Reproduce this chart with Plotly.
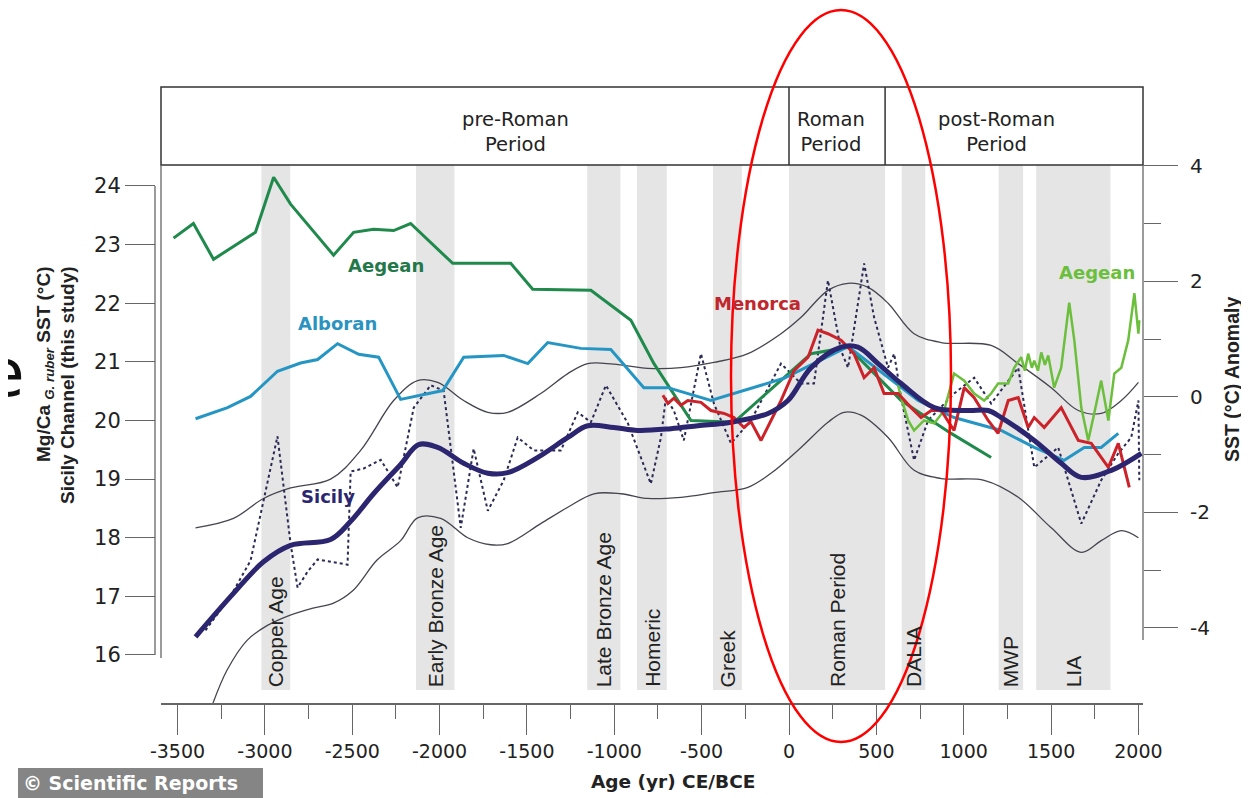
import plotly.graph_objects as go

W, H = 1249, 798
OFF = 8  # page offset of the plot div (body margin)

# ---------------- data ----------------
aegean_yr = [-3523, -3409, -3294, -3054, -2950, -2853, -2607, -2492, -2378, -2263, -2166, -2055,
             -1925, -1593, -1467, -1134, -905, -773, -659, -561, -315, -46, 126, 338, 642, 928, 1157]
aegean_val = [23.11, 23.36, 22.75, 23.21, 24.15, 23.69, 22.82, 23.21, 23.26, 23.24, 23.36, 23.05,
              22.68, 22.68, 22.24, 22.22, 21.71, 20.97, 20.46, 20.00, 19.97, 20.69, 21.14, 21.25,
              20.34, 19.78, 19.37]

alboran_yr = [-3397, -3214, -3082, -2928, -2796, -2698, -2584, -2463, -2349, -2223, -1982, -1862,
              -1633, -1495, -1381, -1192, -1020, -831, -693, -447, -29, 338, 739, 945, 1215, 1404,
              1575, 1690, 1787, 1885]
alboran_val = [20.03, 20.22, 20.41, 20.84, 20.98, 21.04, 21.31, 21.13, 21.08, 20.36, 20.51, 21.08,
               21.11, 20.97, 21.33, 21.23, 21.21, 20.56, 20.56, 20.34, 20.72, 21.26, 20.34, 20.05,
               19.83, 19.54, 19.32, 19.54, 19.54, 19.78]

sicily_yr = [-3397, -3180, -3008, -2853, -2624, -2509, -2378, -2223, -2120, -2011, -1862, -1724,
             -1610, -1438, -1266, -1152, -1003, -865, -676, -521, -332, -120, -6, 126, 298, 395,
             510, 642, 831, 1025, 1140, 1215, 1404, 1558, 1673, 1845, 2017]
sicily_val = [16.31, 17.05, 17.59, 17.87, 17.97, 18.28, 18.75, 19.25, 19.59, 19.54, 19.27, 19.10,
              19.11, 19.37, 19.71, 19.91, 19.88, 19.83, 19.86, 19.91, 19.97, 20.12, 20.34, 20.90,
              21.25, 21.25, 20.97, 20.63, 20.22, 20.17, 20.17, 20.05, 19.66, 19.27, 19.03, 19.15,
              19.44]

upper_yr = [-3397, -3180, -3008, -2853, -2624, -2452, -2263, -2126, -2011, -1862, -1724, -1610,
            -1421, -1266, -1152, -1003, -808, -619, -430, -235, -46, 69, 223, 338, 453, 567, 716,
            871, 1157, 1312, 1501, 1656, 1787, 1902, 2000]
upper_val = [18.17, 18.33, 18.67, 18.85, 19.00, 19.49, 20.34, 20.68, 20.65, 20.34, 20.14, 20.14,
             20.46, 20.80, 20.97, 20.96, 20.89, 20.90, 20.99, 21.14, 21.48, 21.76, 22.22, 22.34,
             22.27, 22.00, 21.48, 21.33, 21.28, 20.97, 20.56, 20.17, 20.12, 20.34, 20.65]

lower_yr = [-3297, -3217, -3102, -2988, -2873, -2725, -2610, -2496, -2358, -2223, -2126, -1994,
            -1839, -1707, -1610, -1421, -1266, -1117, -962, -808, -619, -430, -235, -103, 69, 223,
            315, 412, 567, 716, 871, 1117, 1312, 1501, 1673, 1787, 1902, 2000]
lower_val = [15.18, 15.74, 16.25, 16.50, 16.66, 16.80, 16.88, 17.10, 17.62, 17.95, 18.34, 18.33,
             18.00, 17.88, 17.90, 18.24, 18.52, 18.75, 18.75, 18.67, 18.69, 18.77, 18.86, 19.10,
             19.54, 19.97, 20.14, 20.09, 19.71, 19.15, 19.01, 18.98, 18.69, 18.17, 17.75, 17.95,
             18.12, 18.00]

raw_yr = [-3340, -3197, -3082, -2928, -2853, -2813, -2756, -2698, -2527, -2509, -2435, -2337,
          -2240, -2148, -2051, -1977, -1879, -1805, -1724, -1633, -1553, -1461, -1306, -1209,
          -1134, -1048, -922, -791, -733, -705, -659, -602, -504, -430, -332, -218, -46, 69, 143,
          223, 298, 338, 430, 487, 567, 602, 642, 716, 796, 945, 1060, 1157, 1312, 1404, 1541,
          1673, 1787, 1885, 1959, 2000, 2005]
raw_val = [16.42, 17.00, 17.61, 19.73, 17.90, 17.15, 17.42, 17.63, 17.54, 19.13, 19.18, 19.33,
           18.86, 20.22, 20.60, 20.51, 18.17, 19.52, 18.46, 18.98, 19.71, 19.49, 19.49, 20.14,
           19.97, 20.60, 19.95, 18.92, 19.71, 20.38, 20.17, 19.66, 21.14, 20.29, 19.61, 20.00,
           20.97, 20.63, 20.63, 22.39, 21.19, 20.90, 22.68, 21.76, 20.90, 21.14, 20.39, 19.32,
           20.00, 20.46, 20.73, 20.29, 20.90, 19.20, 19.54, 18.24, 18.98, 19.44, 19.71, 20.34,
           18.98]

menorca_yr = [-722, -693, -659, -619, -579, -504, -447, -372, -315, -258, -218, -160, -103, -46,
              29, 109, 166, 223, 298, 372, 430, 487, 544, 624, 699, 756, 814, 871, 945, 1003,
              1060, 1140, 1197, 1255, 1312, 1369, 1404, 1461, 1558, 1656, 1730, 1828, 1885, 1948]
menorca_val = [20.43, 20.29, 20.38, 20.26, 20.34, 20.31, 20.17, 20.12, 20.05, 19.88, 19.98, 19.66,
               20.00, 20.34, 20.85, 21.08, 21.54, 21.48, 21.37, 21.14, 20.73, 20.90, 20.46, 20.46,
               20.22, 20.05, 20.17, 20.17, 19.83, 20.56, 20.39, 20.00, 19.78, 20.34, 20.39, 19.88,
               20.05, 19.88, 20.22, 19.66, 19.61, 19.20, 19.61, 18.86]

aegean2_yr = [624, 642, 682, 716, 773, 831, 888, 945, 1003, 1060, 1117, 1157, 1197, 1255, 1289,
              1329, 1350, 1369, 1390, 1404, 1425, 1444, 1465, 1484, 1518, 1558, 1604, 1633, 1673,
              1713, 1747, 1787, 1828, 1862, 1902, 1942, 1977, 2000, 2005]
aegean2_val = [20.60, 20.39, 20.00, 19.83, 20.00, 19.95, 20.17, 20.80, 20.68, 20.46, 20.34, 20.46,
               20.63, 20.63, 20.90, 21.08, 20.85, 21.14, 20.90, 21.02, 20.85, 21.16, 20.95, 21.11,
               20.56, 20.90, 22.01, 21.37, 20.22, 19.66, 20.12, 20.68, 20.00, 20.80, 20.90, 21.37,
               22.17, 21.48, 21.71]

band_start = [-3020, -2135, -1155, -870, -435, 0, 645, 1200, 1415]
band_end = [-2855, -1915, -965, -700, -270, 550, 780, 1340, 1840]
band_names = ["Copper Age", "Early Bronze Age", "Late Bronze Age", "Homeric", "Greek",
              "Roman Period", "DALIA", "MWP", "LIA"]

period_names = ["pre-Roman<br>Period", "Roman<br>Period", "post-Roman<br>Period"]
period_label_x = [-1565, 240, 1190]
period_bounds = [0, 550]

x_ticks = [-3500, -3000, -2500, -2000, -1500, -1000, -500, 0, 500, 1000, 1500, 2000]
x_minor = [-3250, -2750, -2250, -1750, -1250, -750, -250, 250, 750, 1250, 1750]
y_ticks = [16, 17, 18, 19, 20, 21, 22, 23, 24]
y2_ticks = [-4, -2, 0, 2, 4]
y2_minor = [-3, -1, 1, 3]

series_labels = [("Aegean", -2307, 22.65, "#23784a"),
                 ("Alboran", -2587, 21.66, "#2b93c0"),
                 ("Sicily", -2639, 18.70, "#2c2570"),
                 ("Menorca", -183, 22.00, "#c0272d"),
                 ("Aegean", 1763, 22.53, "#6cbf3c")]

# ---------------- helpers (page pixel -> paper) ----------------
def px(x):
    return (x - OFF) / W


def py(y):
    return 1 - (y - OFF) / H


HFONT = "DejaVu Sans"
RFONT = "Liberation Sans, Arial"
TXT = "#222222"
AX = "#666666"

fig = go.Figure()


def add_line(xs, ys, color, width, dash="solid", shape="linear"):
    fig.add_trace(go.Scatter(x=xs, y=ys, mode="lines",
                             line=dict(color=color, width=width, dash=dash, shape=shape),
                             hoverinfo="skip", showlegend=False))


add_line(upper_yr, upper_val, "#45454f", 1.3, shape="spline")
add_line(lower_yr, lower_val, "#45454f", 1.3, shape="spline")
add_line(raw_yr, raw_val, "#2a2a55", 2, dash="dot")
add_line(aegean_yr, aegean_val, "#1f8a4c", 3)
add_line(alboran_yr, alboran_val, "#2596c4", 3)
add_line(aegean2_yr, aegean2_val, "#6cbf3c", 2.5)
add_line(menorca_yr, menorca_val, "#cc2229", 3)
add_line(sicily_yr, sicily_val, "#2c2570", 5, shape="spline")

fig.add_trace(go.Scatter(x=[0], y=[0], yaxis="y2", mode="markers",
                         marker=dict(opacity=0), hoverinfo="skip", showlegend=False))

shapes = []
for s, e in zip(band_start, band_end):
    shapes.append(dict(type="rect", xref="x", yref="paper", x0=s, x1=e,
                       y0=py(690), y1=py(165), fillcolor="#e5e5e5",
                       line=dict(width=0), layer="below"))
shapes.append(dict(type="rect", xref="paper", yref="paper", x0=px(161), x1=px(1143),
                   y0=py(165), y1=py(87), line=dict(color="#333333", width=1.5)))
for b in period_bounds:
    shapes.append(dict(type="line", xref="x", yref="paper", x0=b, x1=b,
                       y0=py(165), y1=py(87), line=dict(color="#333333", width=1.5)))
shapes.append(dict(type="line", xref="paper", yref="paper", x0=px(161), x1=px(161),
                   y0=py(165), y1=py(658), line=dict(color=AX, width=1.3)))
shapes.append(dict(type="line", xref="paper", yref="paper", x0=px(1143), x1=px(1143),
                   y0=py(165), y1=py(640), line=dict(color=AX, width=1.3)))
shapes.append(dict(type="line", xref="paper", yref="y", x0=px(155), x1=px(155),
                   y0=y_ticks[0], y1=y_ticks[-1], line=dict(color=AX, width=1.3)))
shapes.append(dict(type="rect", xref="paper", yref="paper", x0=px(18), x1=px(263),
                   y0=py(806), y1=py(768), fillcolor="#858585", line=dict(width=0)))
shapes.append(dict(type="circle", xref="paper", yref="paper", x0=px(731), x1=px(951),
                   y0=py(742), y1=py(10), line=dict(color="#ff0000", width=2.5)))


def A(**kw):
    kw.setdefault("showarrow", False)
    kw.setdefault("xanchor", "center")
    kw.setdefault("yanchor", "middle")
    return kw


ann = []
for name, xc in zip(period_names, period_label_x):
    ann.append(A(x=xc, y=py(132), xref="x", yref="paper", text=name,
                 font=dict(family=HFONT, size=19.5, color=TXT), align="center"))
for name, s, e in zip(band_names, band_start, band_end):
    ann.append(A(x=(s + e) / 2, y=py(689), xref="x", yref="paper", text=name,
                 textangle=-90, yanchor="bottom",
                 font=dict(family=RFONT, size=21, color=TXT)))
for name, xv, yv, col in series_labels:
    ann.append(A(x=xv, y=yv, xref="x", yref="y", text="<b>%s</b>" % name,
                 font=dict(family=HFONT, size=18, color=col)))
ann.append(A(x=px(673), y=py(781), xref="paper", yref="paper",
             text="<b>Age (yr) CE/BCE</b>",
             font=dict(family=HFONT, size=18.5, color=TXT)))
ann.append(A(x=px(45), y=py(264), xref="paper", yref="paper", yanchor="top",
             text="<b>Mg/Ca <sub><i>G. ruber</i></sub> SST (°C)</b>",
             textangle=-90, font=dict(family=RFONT, size=19, color=TXT)))
ann.append(A(x=px(67), y=py(264), xref="paper", yref="paper", yanchor="top",
             text="<b>Sicily Channel (this study)</b>",
             textangle=-90, font=dict(family=RFONT, size=19, color=TXT)))
ann.append(A(x=px(1232), y=py(380), xref="paper", yref="paper",
             text="<b>SST (°C) Anomaly</b>", textangle=-90,
             font=dict(family=RFONT, size=19.5, color=TXT)))
ann.append(A(x=px(21), y=py(783), xref="paper", yref="paper", xanchor="left",
             text="<b>© Scientific Reports</b>",
             font=dict(family=HFONT, size=19, color="white")))
ann.append(A(x=px(4), y=py(373), xref="paper", yref="paper", text="e",
             font=dict(family=HFONT, size=66, color="#111111")))

fig.update_layout(
    width=W, height=H, margin=dict(l=0, r=0, t=0, b=0, autoexpand=False),
    paper_bgcolor="white", plot_bgcolor="white", showlegend=False,
    shapes=shapes, annotations=ann,
    xaxis=dict(domain=[px(161), px(1143)], range=[-3594.7, 2026.3], anchor="y",
               showline=True, linecolor=AX, linewidth=1.5, showgrid=False, zeroline=False,
               ticks="outside", ticklen=30, tickwidth=1.3, tickcolor=AX,
               tickmode="array", tickvals=x_ticks, ticktext=[str(v) for v in x_ticks],
               tickfont=dict(family=HFONT, size=19, color=TXT),
               minor=dict(tickmode="array", tickvals=x_minor, ticks="outside", ticklen=14,
                          tickwidth=1.3, tickcolor=AX)),
    yaxis=dict(domain=[py(703), py(165)], range=[15.181, 24.358], anchor="free",
               position=px(155), showline=False, showgrid=False, zeroline=False,
               ticks="outside", ticklen=30, tickwidth=1.3, tickcolor=AX,
               tickmode="array", tickvals=y_ticks, ticktext=[str(v) for v in y_ticks],
               tickfont=dict(family=HFONT, size=21, color=TXT)),
    yaxis2=dict(overlaying="y", side="right", anchor="free", position=px(1143),
                range=[-5.299, 4.017], showline=False, showgrid=False, zeroline=False,
                ticks="outside", ticklen=34, tickwidth=1.3, tickcolor=AX,
                ticklabelstandoff=8,
                tickmode="array", tickvals=y2_ticks, ticktext=[str(v) for v in y2_ticks],
                tickfont=dict(family=HFONT, size=20, color=TXT),
                minor=dict(tickmode="array", tickvals=y2_minor, ticks="outside", ticklen=17,
                           tickwidth=1.3, tickcolor=AX)),
)

fig.write_html("out.html")
